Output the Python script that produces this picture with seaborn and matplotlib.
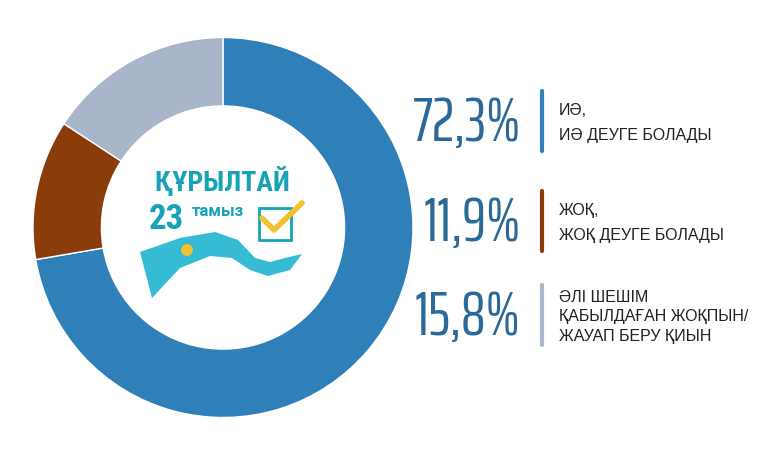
import numpy as np
import matplotlib.pyplot as plt
import matplotlib.patches as mpatches
from matplotlib.lines import Line2D
import seaborn as sns

# survey answers
shares = [72.3, 11.9, 15.8]
share_labels = ["72,3%", "11,9%", "15,8%"]
answer_texts = [
    "ИӘ,\nИӘ ДЕУГЕ БОЛАДЫ",
    "ЖОҚ,\nЖОҚ ДЕУГЕ БОЛАДЫ",
    "ӘЛІ ШЕШІМ\nҚАБЫЛДАҒАН ЖОҚПЫН/\nЖАУАП БЕРУ ҚИЫН",
]
colors = ["#2F80B9", "#8A3D0B", "#A9B5C8"]
logo_title = "ҚҰРЫЛТАЙ"
logo_day = "23"
logo_month = "тамыз"

sns.set_theme(style="white")
plt.rcParams["font.family"] = ["Liberation Sans", "DejaVu Sans"]
narrow = ["Saira ExtraCondensed", "Roboto Condensed", "DejaVu Sans"]
cond = ["Roboto Condensed", "Roboto", "DejaVu Sans"]

W, H = 780, 470
fig = plt.figure(figsize=(W / 100, H / 100), dpi=100)
fig.patch.set_facecolor("white")


def px(x, y):
    return x / W, 1 - y / H


# donut
cx, cy, r = 223, 227.5, 190
ax = fig.add_axes([(cx - r) / W, (H - cy - r) / H, 2 * r / W, 2 * r / H])
ax.pie(shares, colors=colors, startangle=90, counterclock=False, radius=1,
       wedgeprops=dict(width=0.36, edgecolor="white", linewidth=1.0))
ax.set_xlim(-1, 1)
ax.set_ylim(-1, 1)
ax.set_aspect("auto")
ax.axis("off")

# logo in the middle
teal = "#17A2B8"


def dc(x, y):
    return (x - cx) / r, (cy - y) / r


ax.text(*dc(222, 182), logo_title, ha="center", va="center", color=teal,
        fontsize=20, fontweight="bold", family=cond)
ax.text(*dc(166, 219), logo_day, ha="center", va="center", color=teal,
        fontsize=25, fontweight="bold", family=cond)
ax.text(*dc(218, 211), logo_month, ha="center", va="center", color=teal,
        fontsize=12, fontweight="bold", family=["Roboto", "DejaVu Sans"])
# check box
bx0, by0 = dc(259, 240)
ax.add_patch(mpatches.Rectangle((bx0, by0), 32 / r, 32 / r, fill=False,
                                edgecolor=teal, linewidth=2))
chk = [dc(262, 218), dc(274, 230), dc(302, 203)]
ax.plot([p[0] for p in chk], [p[1] for p in chk],
        color="#F2C12E", linewidth=4, solid_capstyle="round")
# ribbon flag
rib = [dc(140, 252), dc(180, 238), dc(215, 232), dc(238, 240), dc(255, 258),
       dc(270, 262), dc(285, 258), dc(302, 254), dc(290, 270), dc(268, 276),
       dc(250, 270), dc(232, 258), dc(210, 256), dc(180, 268), dc(152, 298)]
ax.add_patch(mpatches.Polygon(rib, closed=True, facecolor="#35BBD3",
                              edgecolor="none"))
ax.add_patch(mpatches.Circle(dc(187, 250), 6 / r, facecolor="#F2C12E",
                             edgecolor="none"))

# right-hand legend
centers = [121, 221, 315]
num_color = "#2B6A98"
for share, txt, col, yc in zip(share_labels, answer_texts, colors, centers):
    fig.text(*px(521, yc + 3), share, ha="right", va="center", color=num_color,
             fontsize=44, fontweight="normal", family=narrow)
    fig.add_artist(Line2D([542 / W, 542 / W], [1 - (yc - 30) / H, 1 - (yc + 30) / H],
                          color=col, linewidth=3, transform=fig.transFigure))
    n = txt.count("\n") + 1
    fig.text(*px(559, yc + 2), txt, ha="left", va="center", color="#222222",
             fontsize=11.5, linespacing=1.85 if n == 2 else 1.34)

fig.savefig("out.png", dpi=100, facecolor="white")
